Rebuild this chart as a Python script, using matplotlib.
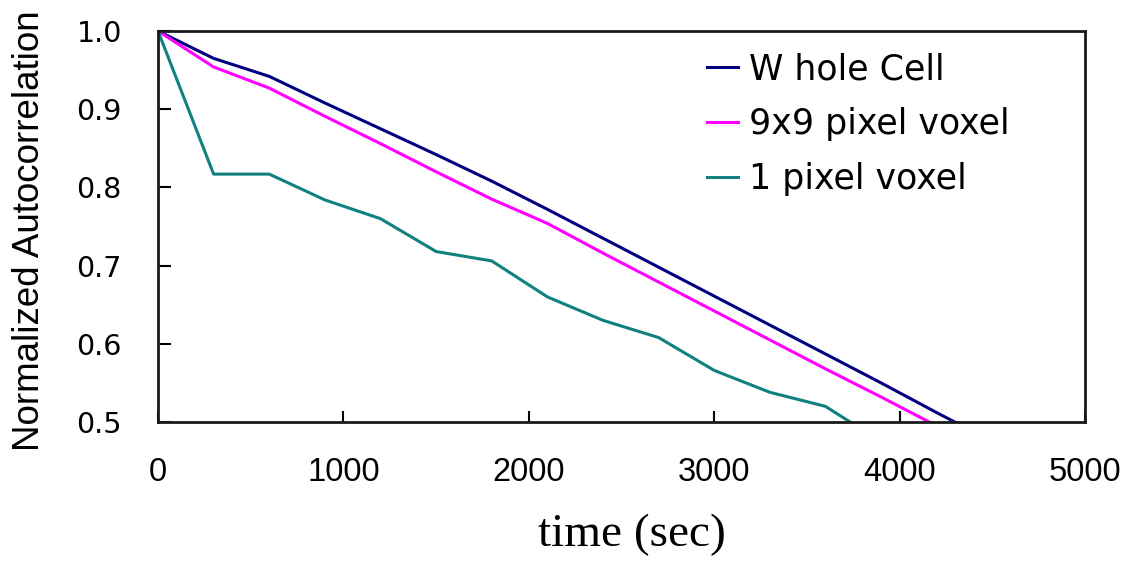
import matplotlib
matplotlib.use("Agg")
import matplotlib.pyplot as plt

# data
time_sec = [0, 300, 600, 900, 1200, 1500, 1800, 2100, 2400, 2700, 3000, 3300, 3600, 3900, 4200, 4500]
whole_cell = [1.0, 0.965, 0.942, 0.908, 0.875, 0.842, 0.808, 0.772, 0.735, 0.698, 0.661, 0.624, 0.587, 0.550, 0.512, 0.475]
voxel_9x9 = [1.0, 0.954, 0.927, 0.891, 0.856, 0.820, 0.785, 0.754, 0.716, 0.679, 0.642, 0.605, 0.568, 0.532, 0.495, 0.460]
voxel_1 = [1.0, 0.817, 0.817, 0.784, 0.760, 0.718, 0.706, 0.660, 0.630, 0.608, 0.566, 0.538, 0.520, 0.475, 0.45, 0.42]
series_names = ["W hole Cell", "9x9 pixel voxel", "1 pixel voxel"]
series_colors = ["#000080", "#ff00ff", "#108080"]
x_ticks = [0, 1000, 2000, 3000, 4000, 5000]
y_ticks = [0.5, 0.6, 0.7, 0.8, 0.9, 1.0]

W, H = 1135, 561
fig = plt.figure(figsize=(W / 100, H / 100), dpi=100)
L, R, T, B = 158, 1085, 31, 422
ax = fig.add_axes([L / W, 1 - B / H, (R - L) / W, (B - T) / H])

for ys, name, c in zip([whole_cell, voxel_9x9, voxel_1], series_names, series_colors):
    ax.plot(time_sec, ys, color=c, lw=2.2, label=name, solid_joinstyle="round")

ax.set_xlim(0, 5000)
ax.set_ylim(0.5, 1.0)
ax.set_xticks(x_ticks)
ax.set_yticks(y_ticks)
ax.set_xticklabels([str(v) for v in x_ticks], fontfamily="Liberation Sans", fontsize=23.5)
ax.set_yticklabels([f"{v:.1f}" for v in y_ticks], fontfamily="DejaVu Sans", fontsize=20.5)
ax.tick_params(axis="x", direction="in", length=8, width=1.5, pad=25, colors="black")
ax.tick_params(axis="y", direction="in", length=9, width=1.5, pad=26, colors="black")
for s in ax.spines.values():
    s.set_linewidth(2)
    s.set_color("#1a1a1a")

fig.text(30 / W, 1 - 231 / H, "Normalized Autocorrelation", rotation=90,
         ha="center", va="center", fontfamily="Liberation Sans", fontsize=26.5)
fig.text(632 / W, 1 - 535 / H, "time (sec)", ha="center", va="center",
         fontfamily="Liberation Serif", fontsize=34)

leg = ax.legend(loc="upper left", bbox_to_anchor=((707 - L) / (R - L), 1 - (52 - T) / (B - T)),
                frameon=False, borderpad=0, borderaxespad=0, handlelength=0.9,
                handletextpad=0.3, labelspacing=0.6,
                prop={"family": "DejaVu Sans", "size": 25})
for line in leg.get_lines():
    line.set_linewidth(2.2)

fig.savefig("out.png", dpi=100)
